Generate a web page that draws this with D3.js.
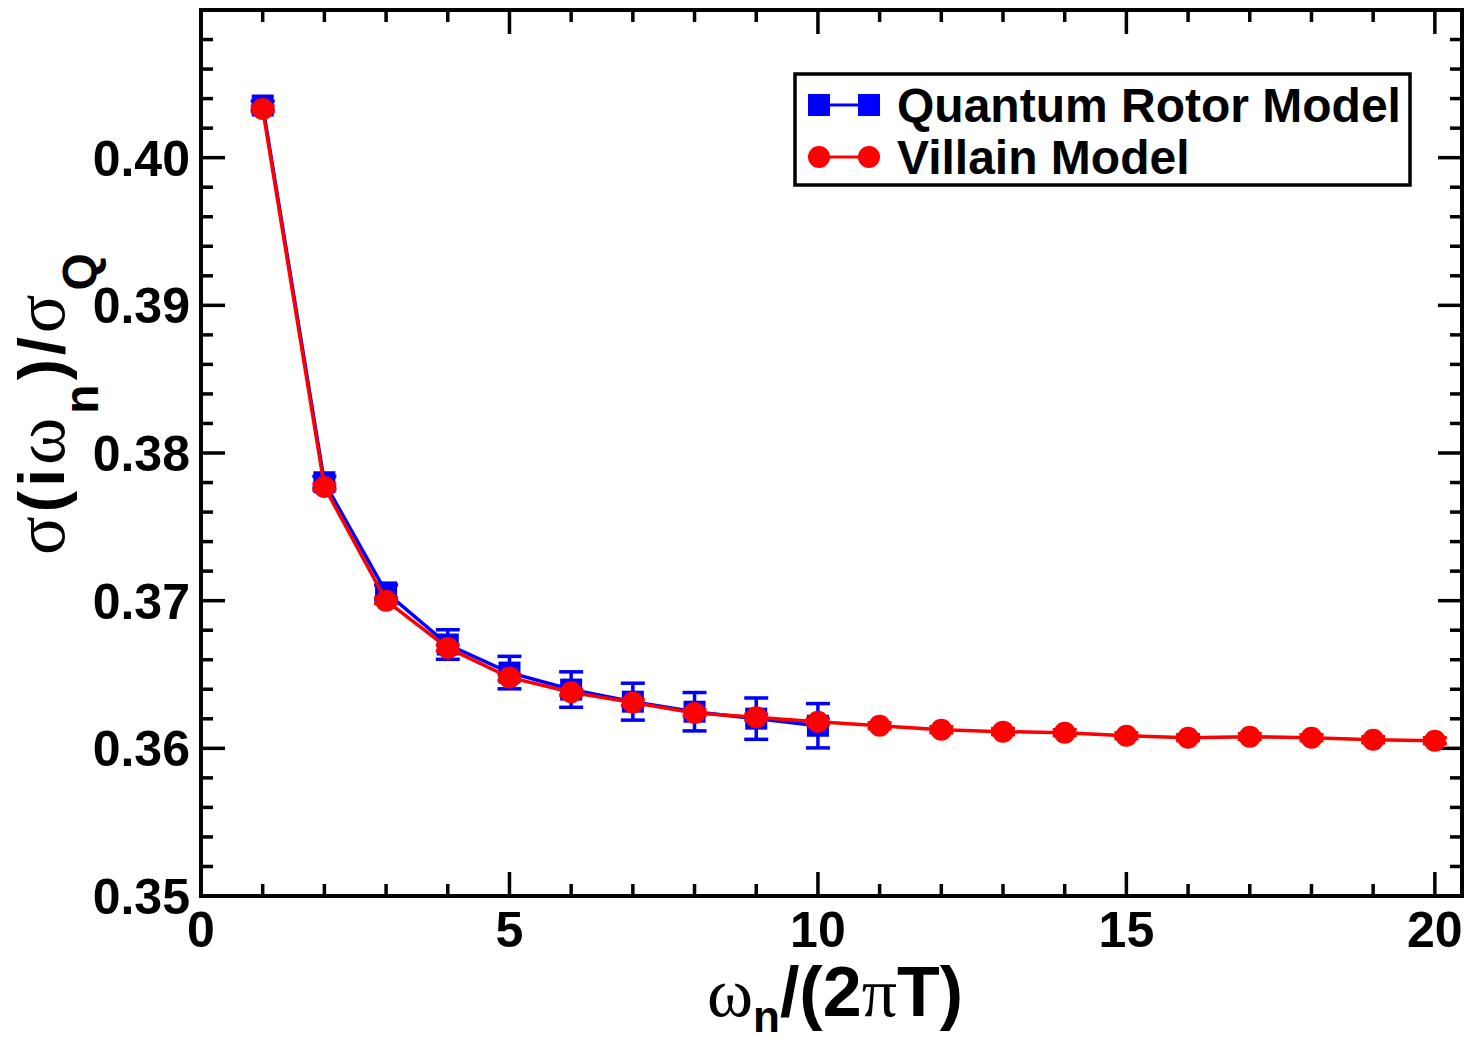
<!DOCTYPE html>
<html><head><meta charset="utf-8">
<script src="https://cdn.jsdelivr.net/npm/d3@7"></script>
<style>body{margin:0;background:#fff}svg{display:block}</style>
</head><body>
<script>
const qrmX = [1,2,3,4,5,6,7,8,9,10];
const qrmY = [0.40353,0.37802,0.37056,0.36703,0.36513,0.36398,0.36316,0.36248,0.36201,0.36153];
const qrmErr = [0.0003,0.0004,0.0005,0.0010,0.0011,0.0012,0.00125,0.0013,0.0014,0.0015];
const vilX = [1,2,3,4,5,6,7,8,9,10,11,12,13,14,15,16,17,18,19,20];
const vilY = [0.4033,0.3777,0.3700,0.3668,0.3648,0.3638,0.3631,0.3624,0.3621,0.3618,0.36153,0.36126,0.36113,0.36106,0.36085,0.36072,0.36079,0.36072,0.36058,0.36052];
const vilErr = vilX.map(()=>0.0002);
const xTicks = [0,5,10,15,20];
const yTicks = [0.35,0.36,0.37,0.38,0.39,0.40];
const legendLabels = ["Quantum Rotor Model","Villain Model"];

const W=1467,H=1043;
const m={l:201,t:10,r:W-1462,b:H-896};
const svg=d3.select("body").append("svg").attr("width",W).attr("height",H);
const x=d3.scaleLinear().domain([0,20.44]).range([m.l,W-m.r]);
const y=d3.scaleLinear().domain([0.35,0.41]).range([H-m.b,m.t]);
const FONT="'Liberation Sans', Arial, Helvetica, sans-serif";
const SERIF="'Liberation Serif', 'Times New Roman', serif";

const g=svg.append("g");
const xMinor=d3.range(0,21,1), yMinor=d3.range(0,31).map(i=>+(0.35+i*0.002).toFixed(3));
function tk(x1,y1,x2,y2){g.append("line").attr("x1",x1).attr("y1",y1).attr("x2",x2).attr("y2",y2).attr("stroke","#000").attr("stroke-width",3.5);}
xMinor.forEach(v=>{const L=(v%5===0)?24:12;const px=x(v);
  if(v===0) return;
  tk(px,y.range()[0],px,y.range()[0]-L); tk(px,m.t,px,m.t+L);});
yMinor.forEach(v=>{const maj=Math.abs(Math.round(v*100)-v*100)<1e-6;const L=maj?24:12;const py=y(v);
  if(Math.abs(v-0.35)<1e-9) return;
  tk(m.l,py,m.l+L,py); tk(W-m.r,py,W-m.r-L,py);});
g.append("rect").attr("x",m.l).attr("y",m.t).attr("width",W-m.r-m.l).attr("height",H-m.b-m.t)
 .attr("fill","none").attr("stroke","#000").attr("stroke-width",4);

xTicks.forEach(v=>g.append("text").attr("x",x(v)).attr("y",y(0.35)+51).attr("text-anchor","middle")
  .attr("font-family",FONT).attr("font-weight","bold").attr("font-size",50).text(v));
yTicks.forEach(v=>g.append("text").attr("x",190).attr("y",y(v)+18).attr("text-anchor","end")
  .attr("font-family",FONT).attr("font-weight","bold").attr("font-size",50).text(v.toFixed(2)));

function drawSeries(xs,ys,es,color,shape){
  const pts=xs.map((d,i)=>({x:d,y:ys[i],e:es[i]}));
  const line=d3.line().x(d=>x(d.x)).y(d=>y(d.y));
  g.append("path").datum(pts).attr("d",line).attr("fill","none").attr("stroke",color).attr("stroke-width",3.5);
  const eg=g.append("g").attr("stroke",color).attr("stroke-width",3.5);
  pts.forEach(d=>{
    eg.append("line").attr("x1",x(d.x)).attr("x2",x(d.x)).attr("y1",y(d.y-d.e)).attr("y2",y(d.y+d.e));
    [d.y-d.e,d.y+d.e].forEach(v=>eg.append("line").attr("x1",x(d.x)-12).attr("x2",x(d.x)+12).attr("y1",y(v)).attr("y2",y(v)));
  });
  pts.forEach(d=>{
    if(shape==="square") g.append("rect").attr("x",x(d.x)-11).attr("y",y(d.y)-11).attr("width",22).attr("height",22).attr("fill",color);
    else g.append("circle").attr("cx",x(d.x)).attr("cy",y(d.y)).attr("r",11).attr("fill",color);
  });
}
drawSeries(qrmX,qrmY,qrmErr,"#0000ff","square");
drawSeries(vilX,vilY,vilErr,"#ff0000","circle");

const lg=svg.append("g");
lg.append("rect").attr("x",795).attr("y",74).attr("width",615).attr("height",111).attr("fill","#fff").attr("stroke","#000").attr("stroke-width",3.5);
[["#0000ff","square"],["#ff0000","circle"]].forEach((s,i)=>{
  const yy=105+i*52;
  lg.append("line").attr("x1",819).attr("x2",869).attr("y1",yy).attr("y2",yy).attr("stroke",s[0]).attr("stroke-width",3);
  [819,869].forEach(cx=>{
    if(s[1]==="square") lg.append("rect").attr("x",cx-11).attr("y",yy-11).attr("width",22).attr("height",22).attr("fill",s[0]);
    else lg.append("circle").attr("cx",cx).attr("cy",yy).attr("r",11).attr("fill",s[0]);
  });
  lg.append("text").attr("x",897).attr("y",yy+17).attr("font-family",FONT).attr("font-weight","bold").attr("font-size",48).text(legendLabels[i]);
});

// x title
const xt=svg.append("text").attr("x",835).attr("y",1016).attr("text-anchor","middle").attr("font-family",FONT).attr("font-weight","bold").attr("font-size",70);
xt.append("tspan").attr("font-weight","normal").attr("font-family",SERIF).text("ω");
xt.append("tspan").attr("font-size",44).attr("dy",16).text("n");
xt.append("tspan").attr("dy",-16).text("/(2");
xt.append("tspan").attr("font-weight","normal").attr("font-family",SERIF).text("π");
xt.append("tspan").text("T)");

// y title
const yt=svg.append("text").attr("transform","translate(64,402) rotate(-90)").attr("text-anchor","middle").attr("font-family",FONT).attr("font-weight","bold").attr("font-size",64).attr("letter-spacing",4);
yt.append("tspan").attr("font-weight","normal").attr("font-family",SERIF).attr("font-size",72).text("σ");
yt.append("tspan").text("(i");
yt.append("tspan").attr("font-weight","normal").attr("font-family",SERIF).attr("font-size",72).text("ω");
yt.append("tspan").attr("font-size",48).attr("dy",34).text("n");
yt.append("tspan").attr("dy",-34).text(")/");
yt.append("tspan").attr("font-weight","normal").attr("font-family",SERIF).attr("font-size",72).text("σ");
yt.append("tspan").attr("font-size",48).attr("dy",32).text("Q");
</script>
</body></html>
